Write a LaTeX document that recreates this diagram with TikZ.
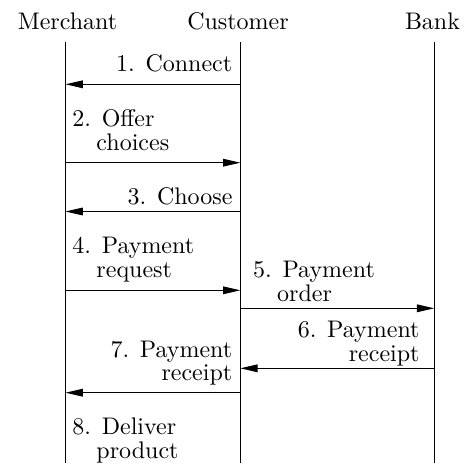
\documentclass[tikz,border=0pt]{standalone}
\usetikzlibrary{arrows.meta}
\begin{document}
\begin{tikzpicture}[x=0.4167pt,y=-0.4167pt,
  head/.style={anchor=base,inner sep=0pt},
  life/.style={line width=0.4pt},
  msg/.style={line width=0.4pt,-{Triangle[length=7.2pt,width=3.2pt]}},
  lbl/.style={inner sep=0pt,align=left,anchor=base west},
  rlbl/.style={inner sep=0pt,align=right,anchor=base east}]
\useasboundingbox (0,0) rectangle (465,463);

% participants
\node[head] (merchant) at (67.5,30) {Merchant};
\node[head] (customer) at (238,30) {Customer};
\node[head] (bank) at (432.5,30) {Bank};

% lifelines
\coordinate (m0) at (65.5,42);  \coordinate (m1) at (65.5,463);
\coordinate (c0) at (240.3,42); \coordinate (c1) at (240.3,463);
\coordinate (b0) at (434.2,42); \coordinate (b1) at (434.2,463);
\draw[life] (m0) -- (m1);
\draw[life] (c0) -- (c1);
\draw[life] (b0) -- (b1);

% messages (multi-line labels sit on the baseline of their last line)
\node[rlbl] (l1) at (232.7,72) {1. Connect};
\draw[msg] (c0 |- 0,84.3) -- (m0 |- 0,84.3);

\node[lbl] (l2) at (72,150) {2. Offer\\[-2.2pt]\hspace*{1em}choices};
\draw[msg] (m0 |- 0,162.7) -- (c0 |- 0,162.7);

\node[rlbl] (l3) at (233,204) {3. Choose};
\draw[msg] (c0 |- 0,211.5) -- (m0 |- 0,211.5);

\node[lbl] (l4) at (72,277) {4. Payment\\[-2.2pt]\hspace*{1em}request};
\draw[msg] (m0 |- 0,290.3) -- (c0 |- 0,290.3);

\node[lbl] (l5) at (252.7,301.5) {5. Payment\\[-2.2pt]\hspace*{1em}order};
\draw[msg] (c0 |- 0,308.3) -- (b0 |- 0,308.3);

\node[rlbl] (l6) at (420,361) {6. Payment\\[-2.2pt]receipt};
\draw[msg] (b0 |- 0,368.3) -- (c0 |- 0,368.3);

\node[rlbl] (l7) at (232.7,380.7) {7. Payment\\[-2.2pt]receipt};
\draw[msg] (c0 |- 0,392.7) -- (m0 |- 0,392.7);

\node[lbl] (l8) at (72,458.3) {8. Deliver\\[-2.2pt]\hspace*{1em}product};
\end{tikzpicture}
\end{document}
